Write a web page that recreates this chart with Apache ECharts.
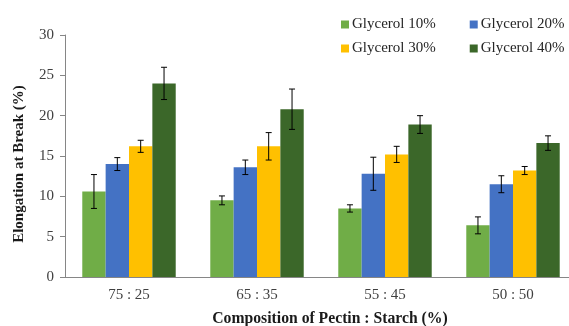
<!DOCTYPE html>
<html><head><meta charset="utf-8">
<script src="https://cdn.jsdelivr.net/npm/echarts@6/dist/echarts.min.js"></script>
<style>html,body{margin:0;padding:0;background:#fff}#c{width:569px;height:326px}</style>
</head><body><div id="c"></div>
<script>
const categories = ['75 : 25', '65 : 35', '55 : 45', '50 : 50'];
const seriesNames = ['Glycerol 10%', 'Glycerol 20%', 'Glycerol 30%', 'Glycerol 40%'];
const g10 = [10.6, 9.5, 8.5, 6.4];
const g20 = [14.0, 13.6, 12.8, 11.5];
const g30 = [16.2, 16.2, 15.2, 13.2];
const g40 = [24.0, 20.8, 18.9, 16.6];
const e10 = [2.1, 0.55, 0.45, 1.05];
const e20 = [0.8, 0.9, 2.05, 1.05];
const e30 = [0.75, 1.7, 1.0, 0.5];
const e40 = [2.0, 2.5, 1.1, 0.9];
const colors = ['#70AD47', '#4472C4', '#FFC000', '#3B6729'];

const values = [g10, g20, g30, g40];
const errors = [e10, e20, e30, e40];
const CAT_GAP = 0.27;
const errData = [];
values.forEach((arr, si) => arr.forEach((v, ci) => errData.push([ci, si, v, errors[si][ci]])));

const font = 'Liberation Serif';
const chart = echarts.init(document.getElementById('c'));
const barSeries = seriesNames.map((n, i) => ({
  name: n, type: 'bar', data: values[i],
  barGap: '0%', barCategoryGap: (CAT_GAP * 100) + '%',
  itemStyle: { color: colors[i] }
}));
const legendCommon = { left: 341, width: 300, itemWidth: 8, itemHeight: 8, itemGap: 34, padding: 0,
  icon: 'rect', textStyle: { fontFamily: font, fontSize: 15, color: '#262626', padding: [0, 0, 0, -2] } };
chart.setOption({
  animation: false,
  textStyle: { fontFamily: font },
  grid: { left: 65, right: -8, top: 35, bottom: 49, outerBoundsMode: 'none' },
  legend: [
    Object.assign({ data: seriesNames.slice(0, 2), top: 17 }, legendCommon),
    Object.assign({ data: seriesNames.slice(2, 4), top: 41 }, legendCommon)
  ],
  xAxis: {
    type: 'category', data: categories,
    axisLine: { lineStyle: { color: '#868686', width: 1 } },
    axisTick: { alignWithLabel: true, length: 5, lineStyle: { color: '#868686' } },
    axisLabel: { fontFamily: font, fontSize: 15, color: '#404040', margin: 11 },
    name: 'Composition of Pectin : Starch (%)', nameLocation: 'middle', nameGap: 34,
    nameTextStyle: { fontFamily: font, fontSize: 15.7, fontWeight: 'bold', color: '#1a1a1a', padding: [0, 0, 0, 18] }
  },
  yAxis: {
    type: 'value', min: 0, max: 30, interval: 5,
    axisLine: { show: true, lineStyle: { color: '#868686', width: 1 } },
    axisTick: { show: true, length: 5, lineStyle: { color: '#868686' } },
    splitLine: { show: false },
    axisLabel: { fontFamily: font, fontSize: 15, color: '#404040', margin: 11 },
    name: 'Elongation at Break (%)', nameLocation: 'middle', nameGap: 38,
    nameTextStyle: { fontFamily: font, fontSize: 15, fontWeight: 'bold', color: '#1a1a1a', padding: [0, 16, 0, 0] }
  },
  series: barSeries.concat([{
    type: 'custom', name: 'err', data: errData, z: 10,
    encode: { x: 0, y: 2 },
    renderItem: function (params, api) {
      const ci = api.value(0), si = api.value(1), v = api.value(2), e = api.value(3);
      const c = api.coord([ci, v]);
      const bw = api.size([1, 0])[0] * (1 - CAT_GAP) / 4;
      const x = c[0] + (si - 1.5) * bw;
      const top = api.coord([ci, v + e])[1];
      const bot = api.coord([ci, v - e])[1];
      const hw = 3;
      const st = { stroke: '#000', lineWidth: 1 };
      return { type: 'group', children: [
        { type: 'line', shape: { x1: x, y1: top, x2: x, y2: bot }, style: st },
        { type: 'line', shape: { x1: x - hw, y1: top, x2: x + hw, y2: top }, style: st },
        { type: 'line', shape: { x1: x - hw, y1: bot, x2: x + hw, y2: bot }, style: st }
      ]};
    }
  }])
});
</script></body></html>
